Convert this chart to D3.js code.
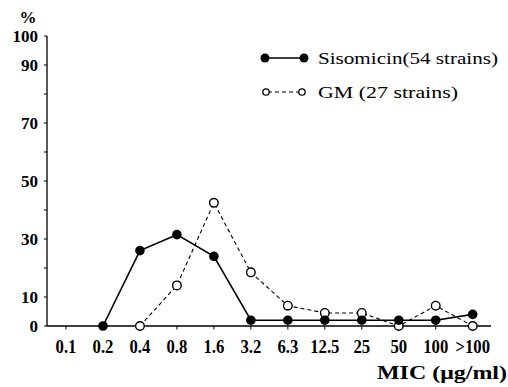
<!DOCTYPE html>
<html><head><meta charset="utf-8">
<script src="https://cdn.jsdelivr.net/npm/d3@7"></script>
<style>
html,body{margin:0;padding:0;background:#fff;}
svg{display:block;}
text{font-family:"Liberation Serif","DejaVu Serif",serif;fill:#000;}
</style></head>
<body>
<svg id="c" width="508" height="387"></svg>
<script>
const categories = ["0.1","0.2","0.4","0.8","1.6","3.2","6.3","12.5","25","50","100",">100"];
const sisomicin = [null, 0, 26, 31.5, 24, 2, 2, 2, 2, 2, 2, 4];
const gm = [null, null, 0, 14, 42.5, 18.5, 7, 4.5, 4.5, 0, 7, 0];
const yTicks = [0,10,20,30,40,50,60,70,80,90,100];
const yLabels = [0,10,30,50,70,90,100];
const seriesNames = ["Sisomicin(54 strains)", "GM (27 strains)"];

const svg = d3.select("#c");
const x = d3.scalePoint().domain(categories).range([66, 472.7]);
const y = d3.scaleLinear().domain([0,100]).range([326, 36]);

// y axis
svg.append("line").attr("x1",47).attr("x2",47).attr("y1",36).attr("y2",326)
  .attr("stroke","#000").attr("stroke-width",1.3);
svg.selectAll(".yt").data(yTicks).enter().append("line")
  .attr("x1",44).attr("x2",47).attr("y1",d=>y(d)).attr("y2",d=>y(d))
  .attr("stroke","#000").attr("stroke-width",1);
svg.selectAll(".yl").data(yLabels).enter().append("text")
  .attr("x",38).attr("y",d=>y(d)+6).attr("text-anchor","end")
  .attr("font-size",17).attr("font-weight","bold")
  .text(d=>d);
svg.append("text").attr("x",28).attr("y",23).attr("text-anchor","middle")
  .attr("font-size",17).attr("font-weight","bold").text("%");

// x axis
svg.append("line").attr("x1",47).attr("x2",491).attr("y1",326).attr("y2",326)
  .attr("stroke","#000").attr("stroke-width",1.3);
svg.selectAll(".xt").data(categories).enter().append("line")
  .attr("x1",d=>x(d)).attr("x2",d=>x(d)).attr("y1",326).attr("y2",329.5)
  .attr("stroke","#000").attr("stroke-width",1);
svg.selectAll(".xl").data(categories).enter().append("text")
  .attr("text-anchor","middle")
  .attr("font-size",19).attr("font-weight","bold")
  .attr("transform",d=>`translate(${x(d)},353) scale(0.88,1)`)
  .text(d=>d);
svg.append("text").attr("x",377).attr("y",379)
  .attr("font-size",19).attr("font-weight","bold").attr("textLength",130).attr("lengthAdjust","spacingAndGlyphs")
  .text("MIC (\u03bcg/ml)");

// series
const mk = arr => categories.map((c,i)=>({c, v:arr[i]})).filter(d=>d.v!==null);
const line = d3.line().x(d=>x(d.c)).y(d=>y(d.v));
const gmD = mk(gm), sD = mk(sisomicin);

svg.append("path").attr("d",line(gmD)).attr("fill","none").attr("stroke","#000")
  .attr("stroke-width",1.1).attr("stroke-dasharray","4,3");
svg.append("path").attr("d",line(sD)).attr("fill","none").attr("stroke","#000")
  .attr("stroke-width",1.6);
svg.selectAll(".gp").data(gmD).enter().append("circle")
  .attr("cx",d=>x(d.c)).attr("cy",d=>y(d.v)).attr("r",4.3)
  .attr("fill","#fff").attr("stroke","#000").attr("stroke-width",1.4);
svg.selectAll(".sp").data(sD).enter().append("circle")
  .attr("cx",d=>x(d.c)).attr("cy",d=>y(d.v)).attr("r",4.8).attr("fill","#000");

// legend
svg.append("line").attr("x1",265).attr("x2",304).attr("y1",58).attr("y2",58)
  .attr("stroke","#000").attr("stroke-width",1.6);
svg.append("circle").attr("cx",265).attr("cy",58).attr("r",4.5).attr("fill","#000");
svg.append("circle").attr("cx",304).attr("cy",58).attr("r",4.5).attr("fill","#000");
svg.append("text").attr("x",318).attr("y",64).attr("font-size",17.5)
  .attr("textLength",180).attr("lengthAdjust","spacingAndGlyphs").text(seriesNames[0]);

svg.append("line").attr("x1",268).attr("x2",300).attr("y1",92).attr("y2",92)
  .attr("stroke","#000").attr("stroke-width",1.1).attr("stroke-dasharray","4,3");
svg.append("circle").attr("cx",266).attr("cy",92).attr("r",3.2)
  .attr("fill","#fff").attr("stroke","#000").attr("stroke-width",1.3);
svg.append("circle").attr("cx",302).attr("cy",92).attr("r",3.2)
  .attr("fill","#fff").attr("stroke","#000").attr("stroke-width",1.3);
svg.append("text").attr("x",318).attr("y",98).attr("font-size",17.5)
  .attr("textLength",140).attr("lengthAdjust","spacingAndGlyphs").text(seriesNames[1]);
</script>
</body></html>
